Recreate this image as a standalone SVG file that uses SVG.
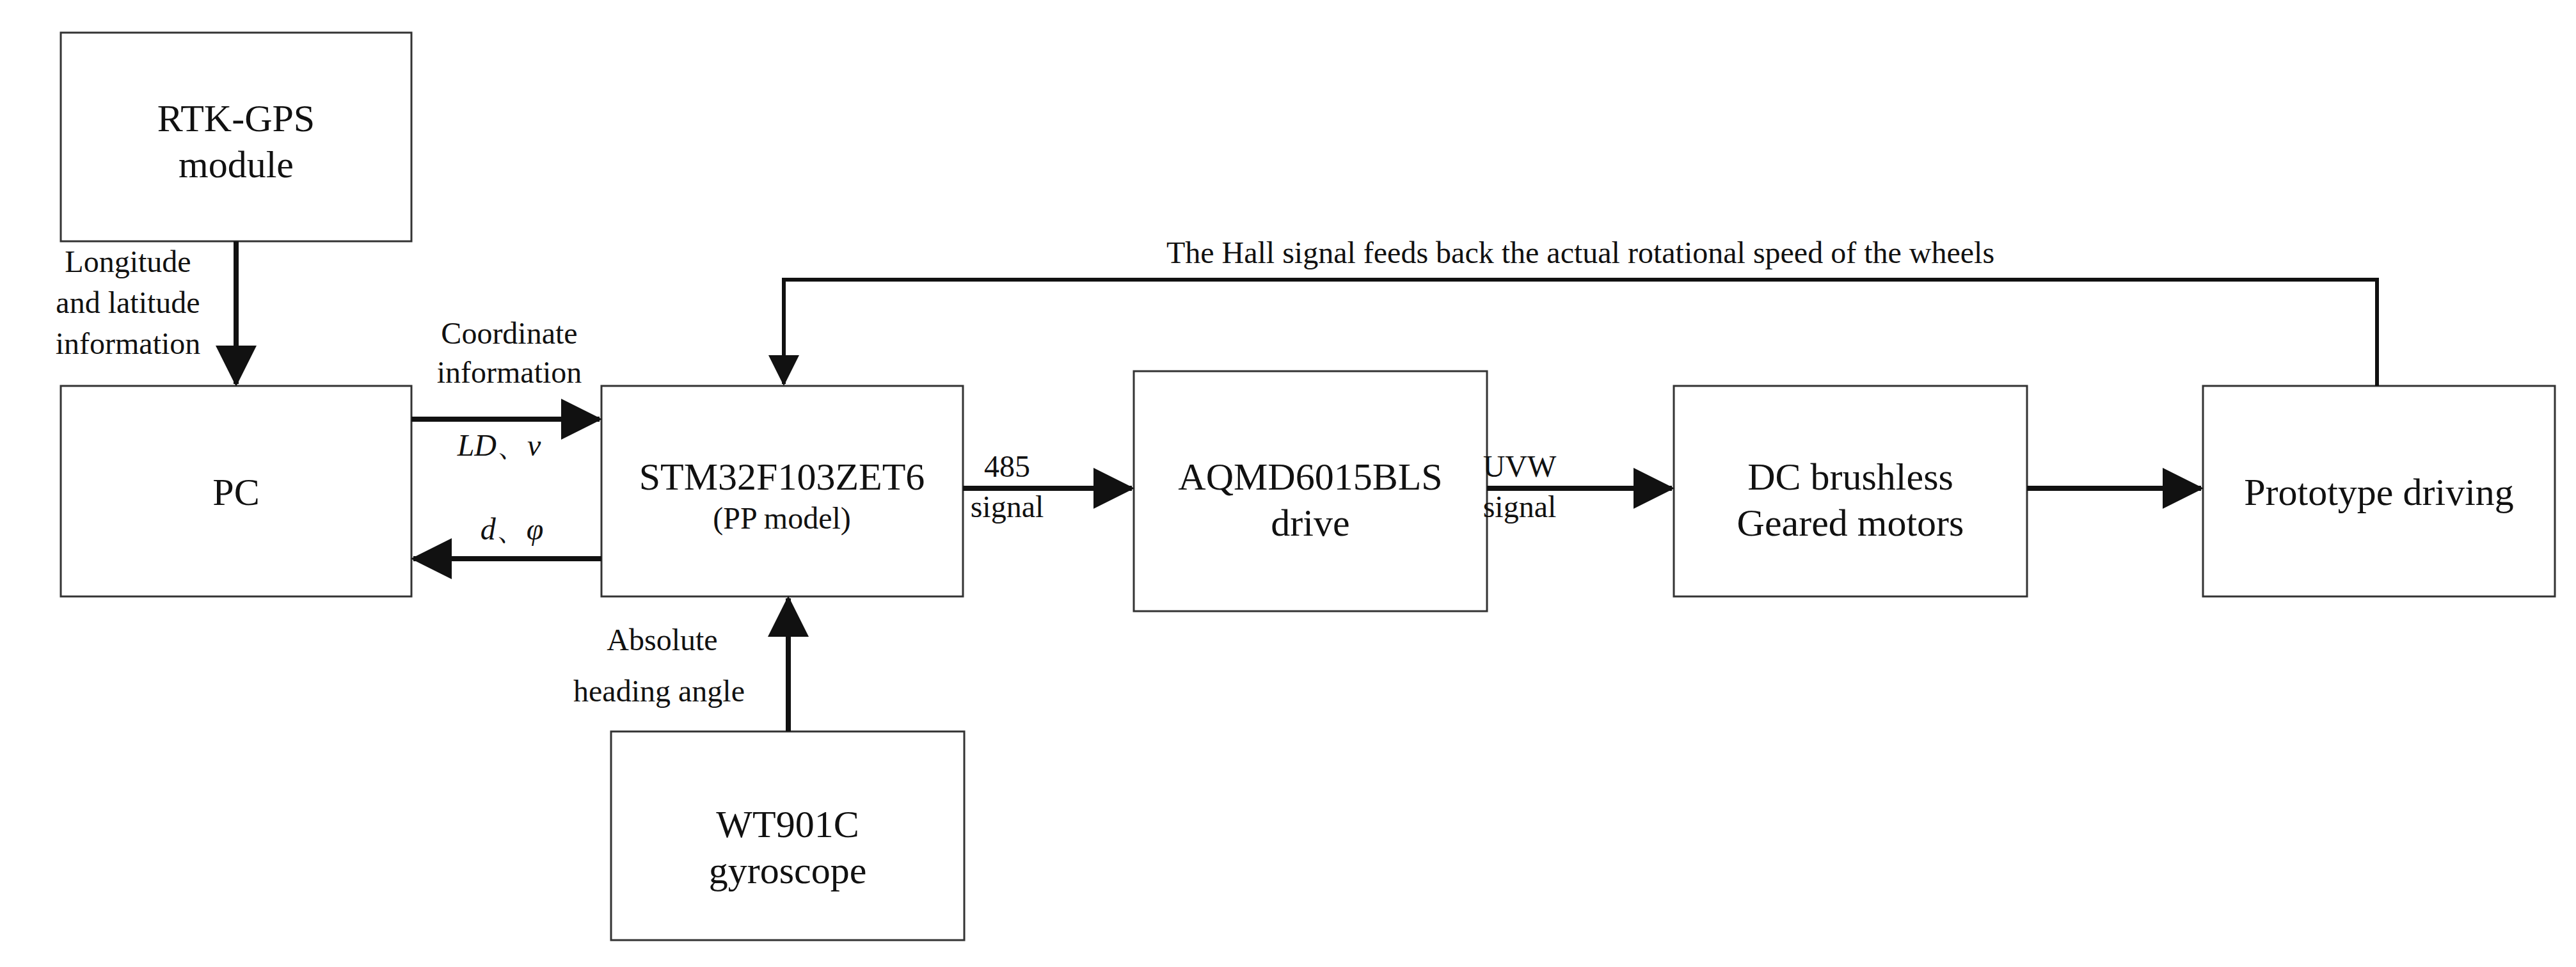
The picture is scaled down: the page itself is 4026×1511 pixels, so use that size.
<svg xmlns="http://www.w3.org/2000/svg" width="4026" height="1511" viewBox="0 0 4026 1511">
<style>
.box{fill:#fff;stroke:#333;stroke-width:3}
.t{font-family:"Liberation Serif","Times New Roman","DejaVu Serif",serif;font-size:60px;fill:#111;text-anchor:middle}
.l{font-family:"Liberation Serif","Times New Roman","DejaVu Serif",serif;font-size:48px;fill:#111;text-anchor:middle}
.i{font-style:italic}
.c{stroke:#111;stroke-width:8;fill:none}
</style>
<defs><marker id="a" markerWidth="8" markerHeight="8" refX="7.5" refY="4" orient="auto" markerUnits="strokeWidth"><path d="M0,0L8,4L0,8z" fill="#111"/></marker></defs>
<rect width="4026" height="1511" fill="#fff"/>
<g id="rtk"><rect class="box" x="95" y="51" width="548" height="326"/><text class="t" x="369" y="205">RTK-GPS</text><text class="t" x="369" y="277">module</text></g>
<g id="pc"><rect class="box" x="95" y="603" width="548" height="329"/><text class="t" x="369" y="789">PC</text></g>
<g id="stm"><rect class="box" x="940" y="603" width="565" height="329"/><text class="t" x="1222" y="765">STM32F103ZET6</text><text class="l" x="1222" y="826">(PP model)</text></g>
<g id="aqmd"><rect class="box" x="1772" y="580" width="552" height="375"/><text class="t" x="2048" y="765">AQMD6015BLS</text><text class="t" x="2048" y="837">drive</text></g>
<g id="dc"><rect class="box" x="2616" y="603" width="552" height="329"/><text class="t" x="2892" y="765">DC brushless</text><text class="t" x="2892" y="837">Geared motors</text></g>
<g id="proto"><rect class="box" x="3443" y="603" width="550" height="329"/><text class="t" x="3718" y="789">Prototype driving</text></g>
<g id="gyro"><rect class="box" x="955" y="1143" width="552" height="326"/><text class="t" x="1231" y="1308">WT901C</text><text class="t" x="1231" y="1380">gyroscope</text></g>
<g id="connectors">
<line class="c" x1="369" y1="377" x2="369" y2="600" marker-end="url(#a)"/>
<line class="c" x1="643" y1="655" x2="937" y2="655" marker-end="url(#a)"/>
<line class="c" x1="940" y1="873" x2="646" y2="873" marker-end="url(#a)"/>
<line class="c" x1="1232" y1="1143" x2="1232" y2="935" marker-end="url(#a)"/>
<line class="c" x1="1505" y1="763" x2="1769" y2="763" marker-end="url(#a)"/>
<line class="c" x1="2324" y1="763" x2="2613" y2="763" marker-end="url(#a)"/>
<line class="c" x1="3168" y1="763" x2="3440" y2="763" marker-end="url(#a)"/>
<polyline class="c" style="stroke-width:6" points="3715,603 3715,437 1225,437 1225,600" marker-end="url(#a)"/>
</g>
<g id="labels">
<text class="l" x="200" y="425">Longitude</text><text class="l" x="200" y="489">and latitude</text><text class="l" x="200" y="553">information</text>
<text class="l" x="796" y="537">Coordinate</text><text class="l" x="796" y="598">information</text>
<text class="l" x="780" y="712"><tspan class="i">LD</tspan>、<tspan class="i">v</tspan></text>
<text class="l" x="800" y="843"><tspan class="i">d</tspan>、<tspan class="i">φ</tspan></text>
<text class="l" x="1035" y="1016">Absolute</text><text class="l" x="1030" y="1096">heading angle</text>
<text class="l" x="1574" y="745">485</text><text class="l" x="1574" y="808">signal</text>
<text class="l" x="2375" y="745">UVW</text><text class="l" x="2375" y="808">signal</text>
<text class="l" x="2470" y="411">The Hall signal feeds back the actual rotational speed of the wheels</text>
</g>
</svg>
